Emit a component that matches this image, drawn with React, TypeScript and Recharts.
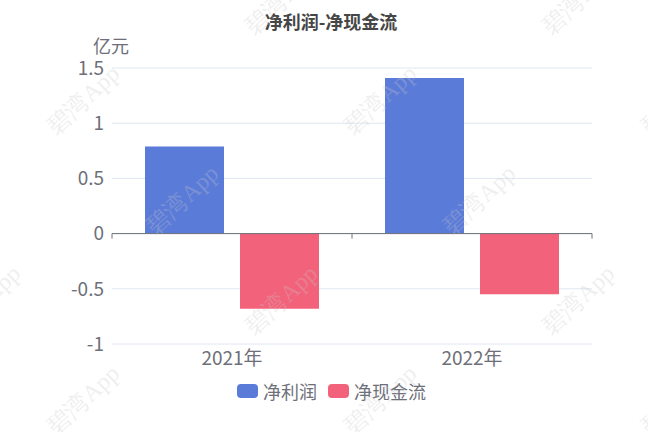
import React from 'react';
import { BarChart, Bar, XAxis, YAxis, CartesianGrid, ReferenceLine, Legend } from 'recharts';

const categories = ['2021年', '2022年'];
const netProfit = [0.79, 1.41];
const netCashFlow = [-0.68, -0.55];
const yTicks = [-1, -0.5, 0, 0.5, 1, 1.5];
const seriesNames = ['净利润', '净现金流'];
const seriesColors = ['#5b7bd8', '#f3627b'];
const titleText = '净利润-净现金流';
const unitText = '亿元';
const watermarkText = '碧湾App';

const data = categories.map((c, i) => ({ name: c, profit: netProfit[i], cash: netCashFlow[i] }));

const FONT = '"Noto Sans CJK SC", "Noto Sans", sans-serif';
const TEXT = '#6e7079';

const watermarkSpots: [number, number][] = [];
for (let k = -1; k < 6; k++) {
  for (let i = -1; i < 4; i++) {
    const x = -16 + 297 * i + 99 * k;
    const y = 100 * k;
    if (x > -80 && x < 720 && y > -60 && y < 500) watermarkSpots.push([x, y]);
  }
}

const AxisZeroLine = (props: any) => {
  const { x1, y1, x2, y2 } = props;
  if (x1 == null) return null;
  const mid = (x1 + x2) / 2;
  return (
    <g>
      <line x1={x1} y1={y1} x2={x2} y2={y2} stroke={TEXT} strokeWidth={1} />
      {[x1, mid, x2].map((x, i) => (
        <line key={i} x1={x} y1={y1} x2={x} y2={y1 + 5} stroke={TEXT} strokeWidth={1} />
      ))}
    </g>
  );
};

const LegendContent = () => (
  <div style={{ display: 'flex', justifyContent: 'center', alignItems: 'center', paddingLeft: 15, fontFamily: FONT, fontSize: 18, color: TEXT }}>
    {seriesNames.map((n, i) => (
      <div key={n} style={{ display: 'flex', alignItems: 'center', marginRight: i === 0 ? 11 : 0 }}>
        <div style={{ width: 21, height: 14, borderRadius: 4, background: seriesColors[i], marginRight: 5 }} />
        <span style={{ lineHeight: '24px' }}>{n}</span>
      </div>
    ))}
  </div>
);

export default function App() {
  return (
    <div style={{ position: 'absolute', left: 0, top: 0, width: 648, height: 432, background: '#fff', overflow: 'hidden' }}>
      <div style={{ position: 'absolute', left: 231, width: 200, top: 8, textAlign: 'center', fontFamily: FONT, fontWeight: 'bold', fontSize: 18, lineHeight: '26px', color: '#464646' }}>
        {titleText}
      </div>
      <div style={{ position: 'absolute', left: 71, width: 80, top: 32, textAlign: 'center', fontFamily: FONT, fontSize: 18, lineHeight: '26px', color: TEXT }}>
        {unitText}
      </div>
      <BarChart width={648} height={432} data={data} margin={{ top: 68, right: 56, bottom: 58, left: 52 }} barSize={79} barGap={16}>
        <CartesianGrid vertical={false} stroke="#e0e6f1" />
        <YAxis
          width={60}
          domain={[-1, 1.5]}
          ticks={yTicks}
          interval={0}
          axisLine={false}
          tickLine={false}
          tick={{ fill: TEXT, fontSize: 19, fontFamily: FONT }}
        />
        <XAxis
          dataKey="name"
          height={30}
          axisLine={false}
          tickLine={false}
          tick={{ fill: TEXT, fontSize: 19, fontFamily: FONT }}
        />
        <Bar dataKey="profit" name={seriesNames[0]} fill={seriesColors[0]} isAnimationActive={false} />
        <Bar dataKey="cash" name={seriesNames[1]} fill={seriesColors[1]} isAnimationActive={false} />
        <ReferenceLine y={0} shape={AxisZeroLine} />
        <Legend verticalAlign="middle" align="center" layout="horizontal" wrapperStyle={{ top: 379, left: 0, width: 648, height: 24 }} content={LegendContent} />
      </BarChart>
      <svg width={648} height={432} style={{ position: 'absolute', left: 0, top: 0, pointerEvents: 'none' }}>
        {watermarkSpots.map(([x, y], i) => (
          <text
            key={i}
            x={x}
            y={y}
            transform={`rotate(-43 ${x} ${y})`}
            textAnchor="middle"
            dominantBaseline="central"
            fontFamily='"Liberation Serif", "DejaVu Serif", serif'
            fontSize={24}
            fill="#c8c8c8"
            fillOpacity={0.3}
          >
            {watermarkText}
          </text>
        ))}
      </svg>
    </div>
  );
}
